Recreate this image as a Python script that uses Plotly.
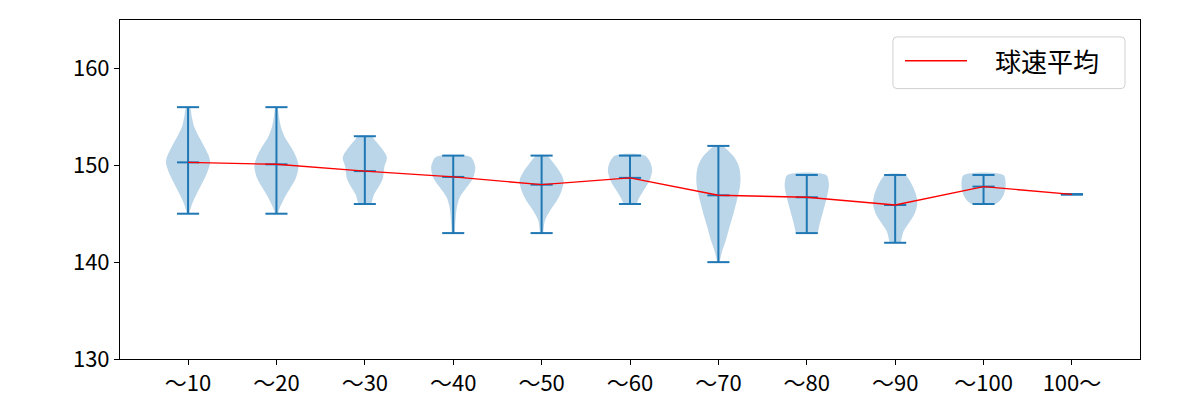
import plotly.graph_objects as go

categories = ["～10", "～20", "～30", "～40", "～50", "～60", "～70", "～80", "～90", "～100", "100～"]
speed_min = [145, 145, 146, 143, 143, 146, 140, 143, 142, 146, 147]
speed_max = [156, 156, 153, 151, 151, 151, 152, 149, 149, 149, 147]
speed_mean = [150.3, 150.1, 149.4, 148.8, 148.0, 148.7, 146.9, 146.7, 145.9, 147.8, 147.0]

# violin outline: speed levels and relative density (1 = widest)
density_y = [
    [145, 146, 147, 148, 149, 150.3, 151, 152, 153, 154, 155, 156],
    [145, 145.6, 146.7, 147.7, 148.7, 149.9, 150.8, 151.8, 152.9, 153.9, 154.9, 156],
    [146, 147, 148, 148.7, 149.8, 150.8, 151.8, 152.7, 153],
    [143, 144.3, 145.6, 146.7, 147.7, 148.7, 149.8, 150.8, 151],
    [143, 143.2, 144.3, 145.3, 146.3, 147.35, 148.4, 149.1, 150.1, 151],
    [146, 146.5, 147.35, 148.4, 149.4, 150.1, 151],
    [140, 141.2, 142.2, 143.6, 145, 146.3, 147.7, 148.7, 149.8, 150.8, 151.8, 152],
    [143, 143.9, 145, 146, 147, 148, 149],
    [142, 142.2, 143.2, 144.1, 145, 146, 147, 148, 149],
    [146, 146.3, 147, 148, 149],
    [],
]
density_w = [
    [0.05, 0.18, 0.38, 0.6, 0.82, 1.0, 0.93, 0.72, 0.48, 0.27, 0.17, 0.08],
    [0.05, 0.15, 0.38, 0.64, 0.88, 1.0, 0.9, 0.68, 0.38, 0.21, 0.12, 0.04],
    [0.3, 0.42, 0.68, 0.82, 0.88, 1.0, 0.75, 0.42, 0.32],
    [0.07, 0.1, 0.16, 0.3, 0.6, 0.9, 1.0, 0.82, 0.55],
    [0.06, 0.08, 0.15, 0.38, 0.68, 0.9, 1.0, 0.88, 0.58, 0.22],
    [0.3, 0.38, 0.6, 0.88, 1.0, 0.95, 0.68],
    [0.05, 0.18, 0.33, 0.5, 0.68, 0.83, 0.97, 1.0, 0.94, 0.73, 0.3, 0.2],
    [0.5, 0.58, 0.71, 0.83, 0.94, 1.0, 0.88],
    [0.25, 0.27, 0.38, 0.64, 0.88, 1.0, 0.94, 0.76, 0.45],
    [0.55, 0.73, 0.92, 1.0, 0.9],
    [],
]

BLUE = "#1f77b4"
HALF = 0.25
CAP = 0.125
positions = list(range(1, len(categories) + 1))

fig = go.Figure()

for p, ys, ws in zip(positions, density_y, density_w):
    if not ys:
        continue
    xs = [p + HALF * w for w in ws] + [p - HALF * w for w in reversed(ws)]
    yy = list(ys) + list(reversed(ys))
    fig.add_trace(go.Scatter(
        x=xs, y=yy, mode="lines", fill="toself",
        fillcolor="rgba(31,119,180,0.3)", line=dict(width=0, shape="spline", smoothing=0.8),
        showlegend=False, hoverinfo="skip"))

lx, ly = [], []
for p, lo, hi, mu in zip(positions, speed_min, speed_max, speed_mean):
    for v in (lo, hi, mu):
        lx += [p - CAP, p + CAP, None]
        ly += [v, v, None]
    if hi > lo:
        lx += [p, p, None]
        ly += [lo, hi, None]
fig.add_trace(go.Scatter(x=lx, y=ly, mode="lines", line=dict(color=BLUE, width=2),
                         showlegend=False, hoverinfo="skip"))

fig.add_trace(go.Scatter(x=positions, y=speed_mean, mode="lines", name="球速平均",
                         line=dict(color="red", width=1.4), showlegend=False))

# legend drawn as layout decoration
x0, x1, y0, y1 = 0.7578, 0.9853, 0.7977, 0.9501
rx, ry = 4 / 1020, 4 / 341
path = (f"M {x0+rx},{y0} L {x1-rx},{y0} Q {x1},{y0} {x1},{y0+ry} L {x1},{y1-ry} "
        f"Q {x1},{y1} {x1-rx},{y1} L {x0+rx},{y1} Q {x0},{y1} {x0},{y1-ry} "
        f"L {x0},{y0+ry} Q {x0},{y0} {x0+rx},{y0} Z")
fig.add_shape(type="path", path=path, xref="paper", yref="paper",
              line=dict(color="#d0d0d0", width=1), fillcolor="rgba(255,255,255,0.8)")
fig.add_shape(type="line", xref="paper", yref="paper", x0=0.7696, x1=0.8304,
              y0=0.8798, y1=0.8798, line=dict(color="red", width=1.4))
fig.add_annotation(text="球速平均", xref="paper", yref="paper", x=0.8559, y=0.8798,
                   xanchor="left", yanchor="middle", showarrow=False,
                   font=dict(size=26, color="black", family="Noto Sans CJK JP"))

fig.update_layout(
    width=1200, height=400,
    margin=dict(l=112, r=68, t=11, b=40),
    plot_bgcolor="white", paper_bgcolor="white",
    font=dict(family="Noto Sans CJK JP", size=22, color="black"),
    showlegend=False,
)
fig.update_xaxes(range=[0.23, 11.77], tickmode="array", tickvals=positions, ticktext=categories,
                 showgrid=False, zeroline=False, showline=True, mirror=True,
                 linecolor="black", linewidth=1, ticks="outside", ticklen=5, tickcolor="black")
fig.update_yaxes(range=[130, 165], tickvals=[130, 140, 150, 160],
                 showgrid=False, zeroline=False, showline=True, mirror=True,
                 linecolor="black", linewidth=1, ticks="outside", ticklen=5, tickcolor="black")

fig.write_html("out.html")
